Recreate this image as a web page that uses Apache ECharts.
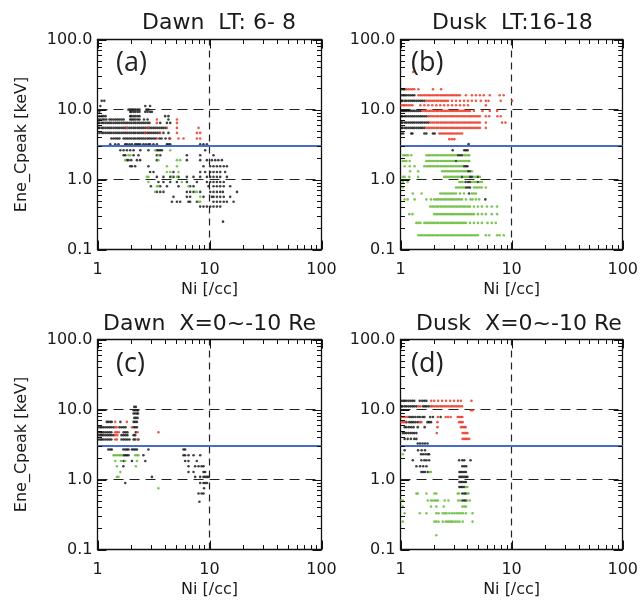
<!DOCTYPE html>
<html><head><meta charset="utf-8">
<script src="https://cdn.jsdelivr.net/npm/echarts@6/dist/echarts.min.js"></script>
<style>html,body{margin:0;padding:0;background:#fff}#c{width:641px;height:603px}</style>
</head><body><div id="c"></div>
<script>
// ---- tick values ----
const xMajorTicks = [1, 10, 100];
const xMinorTicks = [2,3,4,5,6,7,8,9,20,30,40,50,60,70,80,90];
const yMajorTicks = [0.1, 1, 10, 100];
const yMinorTicks = [0.2,0.3,0.4,0.5,0.6,0.7,0.8,0.9,2,3,4,5,6,7,8,9,20,30,40,50,60,70,80,90];
const dashedY = [1, 10];
const dashedX = [10];
const blueY = 3;

const panelTitles = ['Dawn  LT: 6- 8', 'Dusk  LT:16-18', 'Dawn  X=0~-10 Re', 'Dusk  X=0~-10 Re'];
const panelLetters = ['(a)', '(b)', '(c)', '(d)'];
const xName = 'Ni [/cc]';
const yName = 'Ene_Cpeak [keV]';

// ---- data: rows of [energy keV, [Ni values]] ----
const aBlack = [
 [13.3,[1.09,1.15]],
 [11.2,[1.06,2.67,2.95]],
 [9.95,[1.89,1.96,2.03,2.10,2.18,2.28,2.37,2.74,2.85]],
 [9.25,[1.04,1.96,2.01,2.10,2.18,2.28,2.37,2.67,2.80,2.95,3.06]],
 [8.03,[1.04,1.09,1.13,1.18,1.96,2.01,2.10,2.18,2.28,2.37,4.02,4.30]],
 [7.2,[1.02,1.06,1.11,1.15,1.20,1.28,1.33,1.39,1.45,1.51,1.57,1.64,1.71,1.96,2.03,2.10,2.18,2.28,2.37,2.60,2.80,4.30]],
 [6.44,[1.02,1.04,1.09,1.13,1.18,1.23,1.28,1.33,1.39,1.45,1.51,1.57,1.64,1.71,1.78,1.85,1.93,2.01,2.10,2.18,2.28,2.37,2.47,2.57,2.68,2.80,2.91,3.63,4.17,4.46]],
 [5.46,[1.02,1.04,1.09,1.13,1.18,1.23,1.28,1.33,1.39,1.45,1.51,1.57,1.64,1.71,1.78,1.85,1.93,2.01,2.10,2.18,2.28,2.37,2.47,2.57,2.68,2.80,2.91,3.03,3.16,3.29,3.43,3.58,3.73,3.88,4.05]],
 [4.63,[1.04,1.09,1.13,1.18,1.23,1.28,1.33,1.39,1.45,1.51,1.57,1.64,1.71,1.78,1.85,1.93,2.01,2.10,2.18,2.28,2.37,2.47,2.57,2.68,2.80,2.91,3.03,3.16,3.29,3.43,3.58,3.88,4.30]],
 [3.85,[1.33,1.39,1.45,1.51,1.57,1.71,1.78,1.85,1.93,2.01,2.10,2.18,2.28,2.37,2.47,2.57,2.68,2.80,2.91,3.03,3.16,3.29,3.58,3.73,4.05,4.39]],
 [3.19,[1.30,1.44,1.54,1.77,1.83,1.93,2.03,2.17,2.25,2.32,2.41,2.57,2.70,2.85,2.95,3.16,3.39,4.17,4.30,4.46,8.26,8.84,9.48]],
 [2.62,[1.60,1.71,1.83,1.96,2.10,2.41,2.85,3.39,3.50,3.63,3.76,9.15]],
 [2.22,[1.71,1.77,2.10,2.32,3.39,3.63,6.28,8.26,10.86]],
 [1.89,[1.83,1.89,2.00,2.25,2.40,3.39,6.28,8.26,9.48,10.5,11.25,12.0,12.9]],
 [1.55,[1.96,2.03,2.17,2.85,8.84,10.15,10.86,11.65,12.46,13.4,14.3]],
 [1.28,[2.95,3.16,4.77,8.26,9.15,10.15,10.86,11.65,12.46,13.8]],
 [1.09,[3.39,3.88,4.46,4.77,5.29,6.28,7.20,8.26,9.48,10.15,10.86,11.65,12.46,14.3]],
 [0.92,[3.50,3.88,4.46,5.12,6.28,7.72,9.48,10.15,10.86,11.65,12.46,13.4]],
 [0.80,[3.00,3.63,4.17,5.29,6.72,7.20,9.80,10.86,11.65,12.46,13.4,15.3]],
 [0.665,[3.39,3.63,3.88,6.28,6.72,7.20,8.26,10.15,10.86,11.65,12.46,13.17,17.6]],
 [0.565,[4.77,6.28,6.72,8.84,10.5,10.86,11.65,12.46,13.4,15.3]],
 [0.48,[4.62,5.12,5.47,6.49,6.72,7.72,10.86,11.65,12.46,13.4,14.3,16.4]],
 [0.41,[8.26,8.84,9.48,10.15,10.86,11.65,12.46]],
 [0.25,[13.2]]
];
const aRed = [
 [7.2,[3.39,5.12]],
 [6.44,[3.39,5.12]],
 [5.46,[1.83,2.85,4.17,5.12,7.98]],
 [4.63,[2.67,3.63,5.12,7.72,8.26]],
 [3.85,[3.39,4.46,5.29,5.86,7.72,8.26]]
];
const aGreen = [
 [2.62,[3.27,4.46]],
 [2.22,[1.89,1.96,3.5]],
 [1.89,[1.77,3.5,5.12,5.47]],
 [1.55,[4.17,5.12]],
 [1.28,[4.17,4.46,5.29]],
 [1.09,[2.76,2.85,4.62,5.12]],
 [0.92,[2.85,5.67]],
 [0.80,[3.39,3.5,6.5]],
 [0.665,[3.27,7.45,7.72]],
 [0.565,[8.26]],
 [0.48,[7.98,8.26]]
];

const bBlack = [
 [19.5,[1.02,1.06,1.09]],
 [16.0,[1.02,1.06,1.09,1.13,1.18,1.23,1.28,1.33]],
 [13.3,[1.02,1.04,1.09,1.13,1.18,1.23,1.28,1.33,1.39,1.45,1.51,1.57,1.64]],
 [9.55,[1.02,1.06,1.09,1.13,1.18,1.23,1.28,1.33,1.39,1.45,1.51]],
 [8.0,[1.02,1.04,1.09,1.13,1.18,1.23,1.28,1.33,1.39,1.45,1.51,1.57,1.64,1.71]],
 [6.5,[1.02,1.04,1.09,1.13,1.18,1.23,1.28,1.33,1.39,1.45,1.51,1.57,1.64,1.71,1.78]],
 [5.46,[1.02,1.04,1.09,1.13,1.18,1.23,1.28,1.33,1.39,1.45,1.51,1.57,1.64]],
 [4.54,[1.02,1.06,1.25,1.28,1.64,1.71,1.96,2.03]],
 [3.2,[4.1]],
 [2.62,[2.95,3.75,3.88,4.02]],
 [2.22,[3.29,3.43,3.58]],
 [1.84,[3.16]],
 [1.55,[3.73,3.88,4.0]],
 [1.31,[4.05,4.22]],
 [1.09,[3.58,4.22,4.39,4.97]],
 [0.92,[3.85,4.05,4.22,4.97]],
 [0.77,[3.88,4.05,4.22]],
 [0.63,[4.14]],
 [0.52,[5.8]]
];
const bRed = [
 [34.4,[1.30]],
 [19.5,[1.13,1.18,1.23,1.28,1.33,1.45,1.96,2.32]],
 [16.0,[1.45,1.51,1.57,1.64,1.71,1.78,1.85,1.93,2.01,2.10,2.18,2.28,2.37,2.47,2.57,2.68,2.80,2.91,3.03,3.16,3.29,3.43,3.88,4.39,4.77,5.18,5.62,6.36,7.81,8.48]],
 [13.3,[1.71,1.78,1.85,1.93,2.01,2.10,2.18,2.28,2.37,2.47,2.57,2.68,2.91,3.16,3.43,3.73,4.05,4.39,4.77,5.29,5.86,6.2,7.98,10.1]],
 [11.5,[1.02,1.06,1.09,1.13,1.18,1.23,1.28,1.51,1.64,1.78,1.93,2.10,2.28,2.47,2.68,2.91,3.16,3.43,3.73,4.05,5.86]],
 [9.55,[1.57,1.64,1.71,1.78,1.85,1.93,2.01,2.10,2.18,2.28,2.37,2.47,2.57,2.68,2.80,2.91,3.03,3.16,3.29,3.43,3.58,3.73,3.88,4.05,4.22,4.58,5.47,6.36,7.4]],
 [8.0,[1.78,1.85,1.93,2.01,2.10,2.18,2.28,2.37,2.47,2.57,2.68,2.80,2.91,3.03,3.16,3.29,3.43,3.58,3.73,3.88,4.05,4.22,4.39,4.58,4.77,4.97,5.18,5.86,6.28,7.45,7.98]],
 [6.5,[1.85,1.93,2.01,2.10,2.18,2.28,2.37,2.47,2.57,2.68,2.80,2.91,3.03,3.16,3.29,3.43,3.58,3.73,3.88,4.05,4.22,4.39,4.58,4.77,4.97,5.18,5.86,8.2,8.8]],
 [5.46,[1.71,1.78,1.85,1.93,2.01,2.10,2.18,2.28,2.37,2.47,2.57,2.68,2.80,2.91,3.03,3.16,3.29,3.43,3.58,3.73,3.88,4.05,4.22,4.39,4.58,4.77,4.97,5.18,5.86]],
 [4.54,[2.24,2.32,2.41,2.50,2.60,2.70,2.80,2.91,3.03,3.16,3.29,3.43,3.58]],
 [3.77,[2.75,2.9,3.05]]
];
const bGreen = [
 [2.22,[1.06,1.09,1.13,1.17,1.25,1.71,1.78,1.85,1.93,2.01,2.10,2.18,2.28,2.37,2.47,2.57,2.68,2.80,2.91,3.03,3.16,3.75,3.88,4.05,4.16]],
 [1.84,[1.05,1.09,1.13,1.21,1.71,1.78,1.85,1.93,2.01,2.10,2.18,2.28,2.37,2.47,2.57,2.68,2.80,2.91,3.03,3.29,3.43,3.58,3.73,3.88,4.05,4.16]],
 [1.55,[1.09,1.21,1.34,1.64,1.71,1.78,1.85,1.93,2.01,2.10,2.18,2.28,2.37,2.47,2.57,2.68,2.80,2.91,3.03,3.16,3.29,3.43,3.58]],
 [1.31,[1.22,1.44,2.37,2.47,2.57,2.68,2.80,2.91,3.03,3.16,3.29,3.43,3.58,3.73,3.88,4.39]],
 [1.09,[1.05,1.09,1.2,1.44,2.47,2.57,2.68,2.80,2.91,3.03,3.16,3.29,3.43,3.73,3.88,4.05,4.58,4.77,5.18]],
 [0.92,[1.05,1.16,3.39,3.5,3.63,4.39,4.58,4.77,5.18,5.40]],
 [0.77,[1.05,3.16,3.29,3.43,3.58,3.73,4.58,4.77,4.97,5.18,5.40,5.86]],
 [0.63,[1.29,1.55,2.28,2.37,2.47,2.57,2.68,2.80,2.91,3.03,3.16,3.43,3.73,4.39,4.58,4.77]],
 [0.52,[1.09,1.16,1.34,1.71,1.88,2.01,2.10,2.18,2.28,2.37,2.47,2.57,2.68,2.80,2.91,3.03,3.16,3.29,3.43,3.58,3.88,4.27,4.45,4.77,5.1]],
 [0.41,[1.85,1.93,2.01,2.10,2.18,2.28,2.37,2.47,2.57,2.68,2.80,2.91,3.03,3.16,3.29,3.43,3.58,3.73,3.88,4.05,4.22,4.58,4.97,5.4,6.0,6.63,7.4]],
 [0.32,[1.2,1.28,2.01,2.10,2.18,2.28,2.37,2.47,2.57,2.68,2.80,2.91,3.03,3.16,3.29,3.43,3.58,3.73,3.88,4.05,4.22,4.39,4.58,4.97,5.4,5.86,6.63,7.4]],
 [0.24,[1.39,1.45,1.51,1.64,1.71,1.78,1.85,1.93,2.01,2.10,2.18,2.28,2.37,2.47,2.57,2.68,2.80,2.91,3.03,3.16,3.29,3.43,3.58,3.73,3.88,4.22,4.58,4.97,5.4,6.06,6.63,7.2]],
 [0.16,[1.45,1.51,1.57,1.64,1.71,1.78,1.85,1.93,2.01,2.10,2.18,2.28,2.37,2.47,2.57,2.68,2.80,2.91,3.03,3.16,3.29,3.43,3.58,3.73,3.88,4.05,4.22,4.39,4.58,4.77,4.97,5.86,6.28,7.4,7.8,8.5]]
];

const cBlack = [
 [10.9,[2.13,2.2]],
 [9.77,[2.1,2.17,2.25,2.3]],
 [8.77,[2.1,2.17,2.25,2.3]],
 [7.59,[2.13,2.2,2.28]],
 [6.65,[1.21,1.25,1.3,1.34,1.6,2.1,2.17,2.25]],
 [5.58,[1.02,1.06,1.09,1.13,1.18,1.23,1.28,1.33,1.39,1.57,1.64,1.71,1.78,2.1,2.17,2.25]],
 [4.74,[1.02,1.06,1.09,1.13,1.18,1.23,1.28,1.33,1.71,1.78,1.85,2.2]],
 [4.3,[1.02,1.06,1.09,1.13,1.18,1.23,1.28,1.33,1.39,1.64,1.71,1.78,1.85,2.1,2.17]],
 [3.73,[1.02,1.06,1.09,1.13,1.18,1.23,1.28,1.33,1.64,1.71,1.78,1.85,1.93,2.1,2.17,2.32]],
 [2.68,[1.25,1.3,1.34,1.7,1.77,1.83,1.89,2.03,2.1,2.17,2.25,2.85,5.86,6.06]],
 [2.22,[1.71,1.77,1.83,1.89,2.57,5.86,6.06,6.5,7.2,8.26]],
 [1.84,[1.71,2.03,2.67,6.06,6.49,7.7]],
 [1.55,[1.7,6.49,7.45,7.98,8.5,8.84]],
 [1.28,[6.49,7.2,8.84,9.15]],
 [1.09,[3.06,7.45,8.26,8.84,9.15,9.5,9.8]],
 [0.89,[1.77,8.26,8.84,9.15,9.5]],
 [0.75,[8.94]],
 [0.63,[7.98,8.5,8.84]],
 [0.48,[8.13]]
];
const cRed = [
 [6.65,[1.44,1.83]],
 [5.58,[1.44,1.49,2.03]],
 [4.74,[1.44,1.49,1.55,2.28,3.5]],
 [4.3,[1.44,1.5]],
 [3.73,[1.44,1.49,2.28]]
];
const cGreen = [
 [2.22,[1.39,1.44,1.49,1.55,1.6,1.65,2.17,2.25,2.32]],
 [1.84,[1.44,1.62,1.77,2.25]],
 [1.55,[1.49,2.2]],
 [1.28,[1.6]],
 [1.09,[1.49,1.54]],
 [0.75,[3.5]]
];

const dBlack = [
 [13.3,[1.02,1.06,1.09,1.13,1.18,1.23,1.28,1.33,1.49,1.57,1.64,1.71]],
 [11.1,[1.02,1.04,1.09,1.13,1.18,1.23,1.28,1.33,1.39,1.6,1.66,1.72,1.8]],
 [7.8,[1.2,1.25,1.3,1.36,1.43,1.5,1.58,1.64,1.85,1.96,2.3]],
 [6.6,[1.13,1.2,1.25,1.3,1.36,1.43,1.75,1.81,1.88]],
 [5.6,[1.09,1.13,1.19,1.25,1.31,1.43,1.65]],
 [4.6,[1.05,1.09,1.13,1.18,1.23,1.28,1.33,1.39]],
 [3.8,[1.09,1.16,1.24,1.33,1.39]],
 [3.27,[1.43,1.5,1.58,1.66,1.75]],
 [2.62,[1.09,1.44,1.55,1.66]],
 [2.3,[1.53,1.6,1.68,1.76,1.81]],
 [1.88,[1.29,1.54,1.64,1.71,1.81,3.37,3.6,3.75,4.27]],
 [1.55,[1.39,1.5,1.6,1.71,3.6,3.75,3.9]],
 [1.28,[1.54,1.6,1.66,1.76,3.39,3.5,3.62,3.75,3.88]],
 [1.09,[3.39,3.5,3.62,3.75,3.88,4.0]],
 [0.92,[3.39,3.5,3.62,3.75,3.88]],
 [0.78,[3.39,3.5,3.62,3.75]],
 [0.63,[3.6,3.75,3.88]],
 [0.5,[3.6,3.75,3.88]]
];
const dRed = [
 [13.3,[1.89,2.01,2.18,2.37,2.57,2.8,3.03,3.29,3.5,4.35]],
 [11.1,[1.45,1.51,1.88,1.93,2.01,2.10,2.18,2.28,2.37,2.47,2.57,2.68,2.80,2.91,3.03,3.16,3.29,3.43,3.58]],
 [9.77,[4.3,4.45]],
 [7.8,[1.02,1.06,1.10,1.15,2.17,2.55,2.68,2.83,3.27,3.37,3.5,3.6]],
 [6.6,[1.02,1.06,1.1,1.5,1.54,2.15,3.37,3.5,3.62]],
 [5.6,[2.15,3.5,3.62,3.75,3.85]],
 [4.6,[2.12,3.62,3.75,3.88,4.0]],
 [3.8,[3.62,3.75,3.88,4.0,4.16]]
];
const dGreen = [
 [2.3,[1.05]],
 [1.28,[1.83,1.88]],
 [0.78,[3.88,4.0]],
 [0.63,[1.39,1.43,1.71,2.02,2.1,3.27,3.37,4.0,4.1]],
 [0.5,[1.01,1.05,1.76,1.88,1.95,2.03,2.1,2.17,2.5,2.7,3.3,3.45,3.98,4.2]],
 [0.41,[1.05,1.88,2.1,2.45,3.6,3.75,3.88]],
 [0.33,[1.09,1.49,1.71,2.1,2.2,2.4,2.5,2.6,2.75,2.9,3.05,3.2,3.35,3.5,3.65,3.88,4.45]],
 [0.25,[1.05,2.02,2.1,2.2,2.4,2.55,2.65,2.75,2.85,2.95,3.1,3.25,3.4,3.63,4.45]],
 [0.16,[2.1]]
];

const panels = [
  {black: aBlack, red: aRed, green: aGreen},
  {black: bBlack, red: bRed, green: bGreen},
  {black: cBlack, red: cRed, green: cGreen},
  {black: dBlack, red: dRed, green: dGreen}
];

function rowsToPoints(rows) {
  const out = [];
  rows.forEach(r => r[1].forEach(x => out.push([x, r[0]])));
  return out;
}

// tick marks: [xValue, yValue, kind(0=x tick,1=y tick), length px]
const X_MIN = 1, X_MAX = 100, Y_MIN = 0.1, Y_MAX = 100;
function tickItems() {
  const t = [];
  xMajorTicks.forEach(v => t.push([v, Y_MIN, 0, 9]));
  xMinorTicks.forEach(v => t.push([v, Y_MIN, 0, 4.5]));
  yMajorTicks.forEach(v => t.push([X_MIN, v, 1, 9]));
  yMinorTicks.forEach(v => t.push([X_MIN, v, 1, 4.5]));
  return t;
}
function renderTick(params, api) {
  const kind = api.value(2), len = api.value(3);
  const tl = api.coord([X_MIN, Y_MAX]);
  const br = api.coord([X_MAX, Y_MIN]);
  const st = {stroke: '#111', lineWidth: 1};
  if (kind === 0) {
    const x = Math.round(api.coord([api.value(0), Y_MIN])[0]) + 0.5;
    return {type: 'group', children: [
      {type: 'line', shape: {x1: x, y1: br[1], x2: x, y2: br[1] - len}, style: st},
      {type: 'line', shape: {x1: x, y1: tl[1], x2: x, y2: tl[1] + len}, style: st}
    ]};
  }
  const y = Math.round(api.coord([X_MIN, api.value(1)])[1]) + 0.5;
  return {type: 'group', children: [
    {type: 'line', shape: {x1: tl[0], y1: y, x2: tl[0] + len, y2: y}, style: st},
    {type: 'line', shape: {x1: br[0], y1: y, x2: br[0] - len, y2: y}, style: st}
  ]};
}

const FONT = 'DejaVu Sans';
const INK = '#1a1a1a';
const gridBoxes = [
  {left: 97.5, top: 39.5, width: 224, height: 210},
  {left: 400.5, top: 39.5, width: 224, height: 210},
  {left: 97.5, top: 339.5, width: 224, height: 210},
  {left: 400.5, top: 339.5, width: 224, height: 210}
];
const titlePos = [
  {left: 137, top: 7}, {left: 427, top: 7}, {left: 98, top: 308}, {left: 411, top: 308}
];
const letterPos = [
  {left: 111, top: 45}, {left: 406, top: 45}, {left: 111, top: 346}, {left: 406, top: 346}
];

const option = {
  animation: false,
  backgroundColor: '#ffffff',
  title: [],
  grid: [],
  xAxis: [],
  yAxis: [],
  series: []
};

const frameLine = {color: '#111', width: 1.3};

panels.forEach((p, i) => {
  option.grid.push(Object.assign({containLabel: false}, gridBoxes[i]));
  option.title.push({text: panelTitles[i], left: titlePos[i].left, top: titlePos[i].top,
    textStyle: {fontFamily: FONT, fontSize: 22, fontWeight: 'normal', color: INK}});
  option.title.push({text: panelLetters[i], left: letterPos[i].left, top: letterPos[i].top,
    textStyle: {fontFamily: 'Open Sans', fontSize: 27, fontWeight: 'normal', color: '#222'}});

  const xb = option.xAxis.length;
  const baseX = {type: 'log', logBase: 10, min: X_MIN, max: X_MAX, gridIndex: i, splitLine: {show: false}};
  option.xAxis.push(Object.assign({}, baseX, {
    position: 'bottom',
    axisLine: {show: true, lineStyle: frameLine},
    axisTick: {show: false},
    axisLabel: {show: true, margin: 12, formatter: v => String(Math.round(v)),
      fontFamily: FONT, fontSize: 16, color: INK},
    name: xName, nameLocation: 'middle', nameGap: 32,
    nameTextStyle: {fontFamily: FONT, fontSize: 16, color: INK}
  }));
  option.xAxis.push(Object.assign({}, baseX, {
    position: 'top', axisLine: {show: true, lineStyle: frameLine},
    axisTick: {show: false}, axisLabel: {show: false}
  }));

  const yb = option.yAxis.length;
  const baseY = {type: 'log', logBase: 10, min: Y_MIN, max: Y_MAX, gridIndex: i, splitLine: {show: false}};
  const yMain = Object.assign({}, baseY, {
    position: 'left',
    axisLine: {show: true, lineStyle: frameLine},
    axisTick: {show: false},
    axisLabel: {show: true, margin: 5, formatter: v => Number(v).toFixed(1),
      fontFamily: FONT, fontSize: 16, color: INK}
  });
  if (i % 2 === 0) {
    yMain.name = yName; yMain.nameLocation = 'middle'; yMain.nameGap = 68;
    yMain.nameTextStyle = {fontFamily: FONT, fontSize: 16, color: INK};
  }
  option.yAxis.push(yMain);
  option.yAxis.push(Object.assign({}, baseY, {
    position: 'right', axisLine: {show: true, lineStyle: frameLine},
    axisTick: {show: false}, axisLabel: {show: false}
  }));

  const markData = [];
  dashedX.forEach(v => markData.push({xAxis: v, lineStyle: {color: '#222', type: [7, 5], width: 1.2}}));
  dashedY.forEach(v => markData.push({yAxis: v, lineStyle: {color: '#222', type: [10, 6], width: 1.2}}));
  markData.push({yAxis: blueY, lineStyle: {color: '#4a6cc9', type: 'solid', width: 1.8}});

  option.series.push({
    type: 'custom', xAxisIndex: xb, yAxisIndex: yb, clip: false, silent: true, z: 6,
    data: tickItems(), renderItem: renderTick
  });

  const common = {type: 'scatter', xAxisIndex: xb, yAxisIndex: yb, symbol: 'circle', symbolSize: 2.6, silent: true};
  option.series.push(Object.assign({}, common, {
    data: rowsToPoints(p.black), itemStyle: {color: '#111111'}, z: 3,
    markLine: {silent: true, symbol: ['none', 'none'], label: {show: false}, data: markData, animation: false}
  }));
  option.series.push(Object.assign({}, common, {data: rowsToPoints(p.green), itemStyle: {color: '#5fb82f'}, z: 4}));
  option.series.push(Object.assign({}, common, {data: rowsToPoints(p.red), itemStyle: {color: '#e8321e'}, z: 5}));
});

const chart = echarts.init(document.getElementById('c'), null, {renderer: 'canvas'});
chart.setOption(option);
</script>
</body></html>
